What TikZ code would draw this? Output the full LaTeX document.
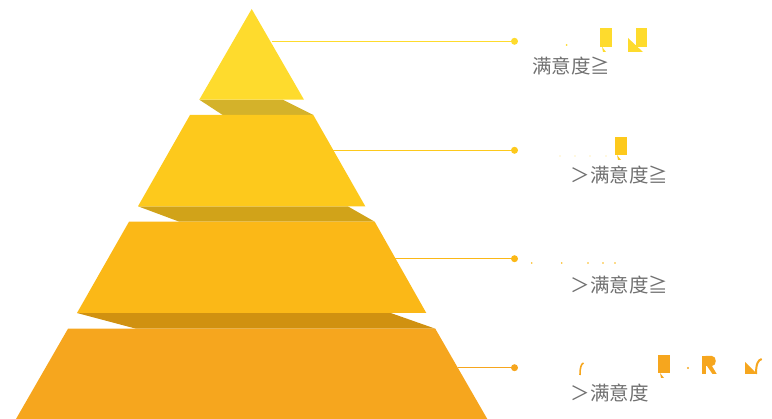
\documentclass[tikz,border=0pt]{standalone}
\usepackage{fontspec}
\newfontfamily\cjk{Noto Sans CJK SC}
\definecolor{tA}{HTML}{FEDB2D}
\definecolor{tB}{HTML}{FDC91C}
\definecolor{tC}{HTML}{FBB817}
\definecolor{tD}{HTML}{F6A61E}
\definecolor{sA}{HTML}{D4B22A}
\definecolor{sB}{HTML}{D1A319}
\definecolor{sC}{HTML}{D09110}
\definecolor{txt}{HTML}{707070}
\tikzset{
  tierbox/.style={draw=none},
  leader/.style={line width=0.8pt},
  dotnode/.style={circle,inner sep=0pt,minimum size=7pt,draw=none},
  label/.style={font=\cjk\fontsize{19.5}{20}\selectfont,text=txt,inner sep=0pt,anchor=base west},
}
\begin{document}
\begin{tikzpicture}[x=1pt,y=-1pt]
\useasboundingbox (0,0) rectangle (772,419);
% shadows
\fill[sA] (199.3,99.7) -- (282.7,99.7) -- (313.3,115) -- (222.7,115) -- cycle;
\fill[sB] (138,206.3) -- (347.7,206.3) -- (374.7,221.7) -- (179.3,221.7) -- cycle;
\fill[sC] (77,313) -- (390.7,313) -- (435.3,328.7) -- (136,328.7) -- cycle;
% tiers
\fill[tA] (251.7,9) -- (304,99.7) -- (199.3,99.7) -- cycle;
\fill[tB] (190,115) -- (313.3,115) -- (365.3,206.3) -- (138,206.3) -- cycle;
\fill[tC] (129,221.7) -- (374.7,221.7) -- (426.3,313) -- (77,313) -- cycle;
\fill[tD] (68,328.7) -- (435.3,328.7) -- (487.3,419) -- (16,419) -- cycle;
% leaders
\coordinate (s1) at (271.7,41.3);
\coordinate (s2) at (333.3,150.3);
\coordinate (s3) at (395,258.7);
\coordinate (s4) at (458.3,367.7);
\node[dotnode,fill=tA] (d1) at (514.5,41.3) {};
\node[dotnode,fill=tB] (d2) at (514.5,150.3) {};
\node[dotnode,fill=tC] (d3) at (514.5,258.7) {};
\node[dotnode,fill=tD] (d4) at (514.5,367.7) {};
\draw[leader,tA] (s1) -- (d1.center);
\draw[leader,tB] (s2) -- (d2.center);
\draw[leader,tC] (s3) -- (d3.center);
\draw[leader,tD] (s4) -- (d4.center);
% fragments of titles
\fill[tA] (566.7,45) circle (1pt);
\fill[tA] (600,28.3) rectangle (611.7,46.7);
\fill[tA] (602,46.7) -- (606,52) -- (603,52) -- cycle;
\fill[tA] (635.7,28.3) rectangle (646.7,47);
\fill[tA] (628,38) -- (643,52) -- (628,52) -- cycle;
\fill[tB] (615,136.7) rectangle (626.7,155);
\fill[tB] (617,155) -- (621,160) -- (618,160) -- cycle;
\foreach \x in {560,575,590,606} \fill[tB!60] (\x,156) circle (0.6pt);
\foreach \x in {531.7,561.7,588,603,615} \fill[tC] (\x,263) circle (0.9pt);
\fill[tD] (658,355) rectangle (670,373);
\fill[tD] (660,373) -- (664,378) -- (661,378) -- cycle;
\fill[tD] (702,356) rectangle (705.5,374);
\fill[tD] (705.5,356) -- (712,356) .. controls (717,356) and (717,366) .. (712,366) -- (716.7,374) -- (712.5,374) -- (707,366) -- (705.5,366) -- cycle;
\fill[tD] (745,362) -- (757,374) -- (745,374) -- cycle;
\draw[tD,line width=2pt] (756,374) .. controls (756,364) and (758,360) .. (761.7,359);
\draw[tD,line width=1.6pt] (580,375) .. controls (580,368) and (581,364) .. (583.5,363);
\fill[tD] (688,368) circle (1.2pt);
% texts
\node[label] (t1) at (532,74) {满意度≧};
\node[label] (t2) at (570.5,183) {＞满意度≧};
\node[label] (t3) at (570.5,293) {＞满意度≧};
\node[label] (t4) at (570.5,401) {＞满意度};
\end{tikzpicture}
\end{document}
